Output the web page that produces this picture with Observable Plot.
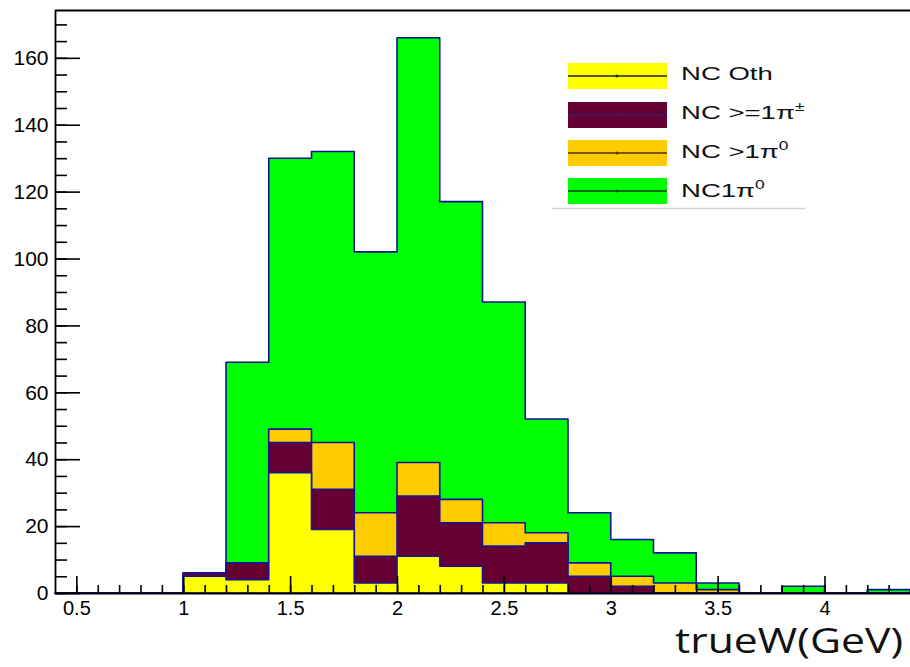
<!DOCTYPE html>
<html>
<head>
<meta charset="utf-8">
<script src="https://cdn.jsdelivr.net/npm/d3@7"></script>
<script src="https://cdn.jsdelivr.net/npm/@observablehq/plot@0.6"></script>
<style>
  html, body { margin: 0; padding: 0; background: #fff; }
  #wrap { position: relative; width: 910px; height: 667px; overflow: hidden; }
  #wrap svg.overlay { position: absolute; left: 0; top: 0; pointer-events: none; }
</style>
</head>
<body>
<div id="wrap"></div>
<script>
// ---- data (bin width 0.2 GeV, bins start at binStart) ----
const binStart = [0.4, 0.6, 0.8, 1.0, 1.2, 1.4, 1.6, 1.8, 2.0, 2.2, 2.4, 2.6, 2.8, 3.0, 3.2, 3.4, 3.6, 3.8, 4.0, 4.2];
const binWidth = 0.2;
const ncOth      = [0, 0, 0, 5, 4, 36, 19, 3, 11, 8, 3, 3, 0, 0, 0, 0, 0, 0, 0, 0];
const ncPiCharged = [0, 0, 0, 1, 5, 9, 12, 8, 18, 13, 11, 12, 5, 2, 0, 0, 0, 0, 0, 0];
const ncMultiPi0 = [0, 0, 0, 0, 0, 4, 14, 13, 10, 7, 7, 3, 4, 3, 3, 1, 0, 0, 0, 0];
const nc1Pi0     = [0, 0, 0, 0, 60, 81, 87, 78, 127, 89, 66, 34, 15, 11, 9, 2, 0, 2, 0, 1];

const seriesNames = ["NC Oth", "NC >=1π±", "NC >1π0", "NC1π0"];
const seriesColors = ["#ffff00", "#660033", "#ffcc00", "#00ff00"];

const xMajor = [0.5, 1, 1.5, 2, 2.5, 3, 3.5, 4];
const xMinor = d3.range(5, 44).map(d => d / 10);
const yMajor = [0, 20, 40, 60, 80, 100, 120, 140, 160];
const yMinor = d3.range(0, 175, 5);
const xDomain = [0.4, 4.4];
const yDomain = [0, 174.3];

// ---- build step table: one row per bin edge, cumulative stacks ----
const edges = binStart.concat([binStart[binStart.length - 1] + binWidth]);
const rows = edges.map((x, i) => {
  const j = Math.min(i, binStart.length - 1);
  const c1 = ncOth[j];
  const c2 = c1 + ncPiCharged[j];
  const c3 = c2 + ncMultiPi0[j];
  const c4 = c3 + nc1Pi0[j];
  return {x, c1, c2, c3, c4};
});

const W = 910, H = 625, mL = 55, mR = 0, mT = 10, mB = 32;
const plotW = W - mL - mR, plotH = H - mT - mB;
const outline = "#12129a";

const chart = Plot.plot({
  width: W, height: H,
  marginLeft: mL, marginRight: mR, marginTop: mT, marginBottom: mB,
  style: {fontFamily: "'Liberation Sans', Arial, sans-serif", background: "#fff", color: "#000"},
  x: {domain: xDomain, label: null},
  y: {domain: yDomain, label: null},
  marks: [
    Plot.areaY(rows, {x: "x", y: "c4", curve: "step-after", fill: seriesColors[3], stroke: outline, strokeWidth: 1.6}),
    Plot.areaY(rows, {x: "x", y: "c3", curve: "step-after", fill: seriesColors[2], stroke: outline, strokeWidth: 1.6}),
    Plot.areaY(rows, {x: "x", y: "c2", curve: "step-after", fill: seriesColors[1], stroke: outline, strokeWidth: 1.6}),
    Plot.areaY(rows, {x: "x", y: "c1", curve: "step-after", fill: seriesColors[0], stroke: outline, strokeWidth: 1.6}),
    // ticks (ROOT style, inward)
    Plot.tickY(yMinor, {y: d => d, stroke: "#000", strokeWidth: 1.6, insetRight: plotW - 12}),
    Plot.tickY(yMajor, {y: d => d, stroke: "#000", strokeWidth: 1.6, insetRight: plotW - 25}),
    Plot.tickX(xMinor, {x: d => d, stroke: "#000", strokeWidth: 1.6, insetTop: plotH - 8}),
    Plot.tickX(xMajor, {x: d => d, stroke: "#000", strokeWidth: 1.6, insetTop: plotH - 17}),
    // frame
    Plot.ruleX([xDomain[0]], {stroke: "#000", strokeWidth: 1.8}),
    Plot.ruleY([yDomain[1]], {stroke: "#000", strokeWidth: 1.8}),
    Plot.ruleY([yDomain[0]], {stroke: "#000", strokeWidth: 2.2}),
    Plot.axisY({ticks: yMajor, tickSize: 0, tickPadding: 7, fontSize: 21, label: null}),
    Plot.axisX({ticks: xMajor, tickSize: 0, tickPadding: 7, fontSize: 20, label: null, tickFormat: d => String(d)})
  ]
});
document.getElementById("wrap").appendChild(chart);

// ---- legend + x title overlay ----
const NS = "http://www.w3.org/2000/svg";
const ov = document.createElementNS(NS, "svg");
ov.setAttribute("class", "overlay");
ov.setAttribute("width", 910);
ov.setAttribute("height", 667);
function el(tag, attrs, parent) {
  const e = document.createElementNS(NS, tag);
  for (const k in attrs) e.setAttribute(k, attrs[k]);
  (parent || ov).appendChild(e);
  return e;
}
el("rect", {x: 548, y: 45, width: 258, height: 163, fill: "#fff"});
el("line", {x1: 552, x2: 805, y1: 208.5, y2: 208.5, stroke: "#d4d4d4", "stroke-width": 1.5});

const rowCenters = [76, 115, 153, 191];
const midLine = ["#222", "#3a1a6e", "#4a3300", "#1a3a1a"];
seriesNames.forEach((name, i) => {
  const cy = rowCenters[i];
  el("rect", {x: 568, y: cy - 13, width: 99, height: 26, fill: seriesColors[i]});
  el("line", {x1: 568, x2: 667, y1: cy, y2: cy, stroke: midLine[i], "stroke-width": 1.5});
  el("circle", {cx: 617, cy: cy, r: 1.5, fill: midLine[i]});
});
const tg = el("g", {transform: "translate(681,0) scale(1.45,1)", "font-family": "'Liberation Sans', Arial, sans-serif", "font-size": 19, fill: "#111"});
function label(y, main, sup) {
  const t = el("text", {x: 0, y: y}, tg);
  t.appendChild(document.createTextNode(main));
  if (sup) {
    const s = el("tspan", {dy: -8, "font-size": 12}, t);
    s.textContent = sup;
  }
}
label(rowCenters[0] + 4, "NC Oth");
label(rowCenters[1] + 4, "NC >=1π", "±");
label(rowCenters[2] + 5, "NC >1π", "0");
label(rowCenters[3] + 6, "NC1π", "0");

const xt = el("text", {x: 675, y: 653, "font-family": "'Open Sans', 'Noto Sans', sans-serif", "font-size": 34, textLength: 228, lengthAdjust: "spacingAndGlyphs", fill: "#111"});
xt.textContent = "trueW(GeV)";
document.getElementById("wrap").appendChild(ov);
</script>
</body>
</html>
